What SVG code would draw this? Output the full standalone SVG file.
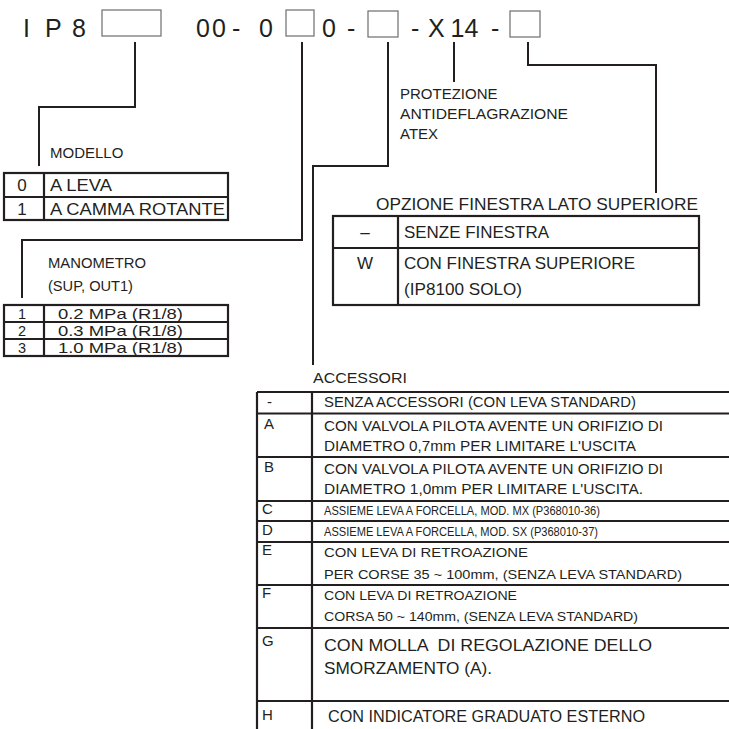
<svg xmlns="http://www.w3.org/2000/svg" width="729" height="729" viewBox="0 0 729 729">
<style>
text{font-family:"Liberation Sans",Arial,Helvetica,sans-serif;fill:#231f20}
.code{font-size:25px}
.box{fill:none;stroke:#6d6d6d;stroke-width:1.2}
.tbl{fill:none;stroke:#231f20;stroke-width:2.2}
.conn{fill:none;stroke:#231f20;stroke-width:2}
.mid{text-anchor:middle}
.t14{font-size:14.5px}
.t15{font-size:15px}
.t17{font-size:17px}
</style>
<rect width="729" height="729" fill="#fff"/>

<g id="code">
<text class="code" x="23 30 45 61 72" y="36.5">I P 8</text>
<rect class="box" x="102" y="10" width="59" height="26"/>
<text class="code" x="196 208 212 225 232 240 259" y="36.5">0 0 - 0</text>
<rect class="box" x="286" y="10" width="28" height="26"/>
<text class="code" x="322 335 347" y="36.5">0 -</text>
<rect class="box" x="368" y="11" width="30" height="26"/>
<text class="code" x="411 419 428 446 450.5 464.5 479 491" y="36.5">- X 14 -</text>
<rect class="box" x="510" y="11" width="30" height="26"/>
</g>

<g id="connectors">
<path class="conn" d="M135 42V107H39V166"/>
<path class="conn" d="M302 42V240H22V298"/>
<path class="conn" d="M388 42V166H313V365"/>
<path class="conn" d="M454 42V82"/>
<path class="conn" d="M528 42V65H656V193"/>
</g>

<g id="modello">
<text class="t15" x="50" y="158">MODELLO</text>
<rect class="tbl" x="4" y="173" width="224" height="47"/>
<path class="tbl" d="M44 173V220M4 197H228"/>
<text class="t17 mid" x="22" y="191">0</text>
<text class="t17" x="50" y="191" textLength="62" lengthAdjust="spacingAndGlyphs">A LEVA</text>
<text class="t17 mid" x="22" y="214.5">1</text>
<text class="t17" x="50" y="214.5" textLength="175" lengthAdjust="spacingAndGlyphs">A CAMMA ROTANTE</text>
</g>

<g id="manometro">
<text class="t15" x="48" y="268" textLength="98" lengthAdjust="spacingAndGlyphs">MANOMETRO</text>
<text class="t15" x="48" y="291" textLength="85" lengthAdjust="spacingAndGlyphs">(SUP, OUT1)</text>
<rect class="tbl" x="4" y="305" width="224" height="51"/>
<path class="tbl" d="M44 305V356M4 322H228M4 339H228"/>
<text class="t14 mid" x="22" y="318.5">1</text>
<text class="t14" x="58" y="318.5" textLength="125" lengthAdjust="spacingAndGlyphs">0.2 MPa (R1/8)</text>
<text class="t14 mid" x="22" y="335.5">2</text>
<text class="t14" x="58" y="335.5" textLength="125" lengthAdjust="spacingAndGlyphs">0.3 MPa (R1/8)</text>
<text class="t14 mid" x="22" y="352.5">3</text>
<text class="t14" x="58" y="352.5" textLength="125" lengthAdjust="spacingAndGlyphs">1.0 MPa (R1/8)</text>
</g>

<g id="protezione">
<text class="t15" x="400" y="99">PROTEZIONE</text>
<text class="t15" x="400" y="119" textLength="168" lengthAdjust="spacingAndGlyphs">ANTIDEFLAGRAZIONE</text>
<text class="t15" x="400" y="139">ATEX</text>
</g>

<g id="opzione">
<text class="t17" x="376" y="210" textLength="322" lengthAdjust="spacingAndGlyphs">OPZIONE FINESTRA LATO SUPERIORE</text>
<rect class="tbl" x="333" y="216" width="366" height="89"/>
<path class="tbl" d="M398 216V305M333 248H699"/>
<text class="t17 mid" x="365" y="238">–</text>
<text class="t17" x="404" y="238" textLength="145" lengthAdjust="spacingAndGlyphs">SENZE FINESTRA</text>
<text class="t17 mid" x="365" y="269">W</text>
<text class="t17" x="404" y="269" textLength="231" lengthAdjust="spacingAndGlyphs">CON FINESTRA SUPERIORE</text>
<text class="t17" x="404" y="295" textLength="118" lengthAdjust="spacingAndGlyphs">(IP8100 SOLO)</text>
</g>

<g id="accessori">
<text class="t15" x="313" y="383" textLength="94" lengthAdjust="spacingAndGlyphs">ACCESSORI</text>
<path class="tbl" d="M257 392V729M312 392V729M257 392H730M257 413.5H730M257 457H730M257 501H730M257 521H730M257 542H730M257 585H730M257 628H730M257 701H730"/>
<text class="t15" x="267" y="407">-</text>
<text class="t15" x="324" y="407" textLength="312" lengthAdjust="spacingAndGlyphs">SENZA ACCESSORI (CON LEVA STANDARD)</text>
<text class="t15" x="264" y="429">A</text>
<text class="t15" x="324" y="431" textLength="339" lengthAdjust="spacingAndGlyphs">CON VALVOLA PILOTA AVENTE UN ORIFIZIO DI</text>
<text class="t15" x="324" y="451" textLength="312" lengthAdjust="spacingAndGlyphs">DIAMETRO 0,7mm PER LIMITARE L'USCITA</text>
<text class="t15" x="264" y="472">B</text>
<text class="t15" x="324" y="474" textLength="339" lengthAdjust="spacingAndGlyphs">CON VALVOLA PILOTA AVENTE UN ORIFIZIO DI</text>
<text class="t15" x="324" y="494" textLength="319" lengthAdjust="spacingAndGlyphs">DIAMETRO 1,0mm PER LIMITARE L'USCITA.</text>
<text class="t15" x="262" y="514">C</text>
<text x="324" y="515" font-size="12" textLength="276" lengthAdjust="spacingAndGlyphs">ASSIEME LEVA A FORCELLA, MOD. MX (P368010-36)</text>
<text class="t15" x="262" y="535">D</text>
<text x="324" y="536" font-size="12" textLength="274" lengthAdjust="spacingAndGlyphs">ASSIEME LEVA A FORCELLA, MOD. SX (P368010-37)</text>
<text class="t15" x="262" y="555">E</text>
<text x="324" y="557" font-size="13" textLength="204" lengthAdjust="spacingAndGlyphs">CON LEVA DI RETROAZIONE</text>
<text x="324" y="579" font-size="13" textLength="358" lengthAdjust="spacingAndGlyphs">PER CORSE 35 ~ 100mm, (SENZA LEVA STANDARD)</text>
<text class="t15" x="262" y="598">F</text>
<text x="324" y="600" font-size="12" textLength="193" lengthAdjust="spacingAndGlyphs">CON LEVA DI RETROAZIONE</text>
<text x="324" y="621" font-size="12" textLength="314" lengthAdjust="spacingAndGlyphs">CORSA 50 ~ 140mm, (SENZA LEVA STANDARD)</text>
<text class="t15" x="262" y="646">G</text>
<text x="324" y="651" font-size="17" xml:space="preserve" textLength="328" lengthAdjust="spacingAndGlyphs">CON MOLLA  DI REGOLAZIONE DELLO</text>
<text x="324" y="674" font-size="17" textLength="168" lengthAdjust="spacingAndGlyphs">SMORZAMENTO (A).</text>
<text class="t15" x="262" y="720">H</text>
<text x="328" y="722" font-size="16" textLength="317" lengthAdjust="spacingAndGlyphs">CON INDICATORE GRADUATO ESTERNO</text>
</g>
</svg>
